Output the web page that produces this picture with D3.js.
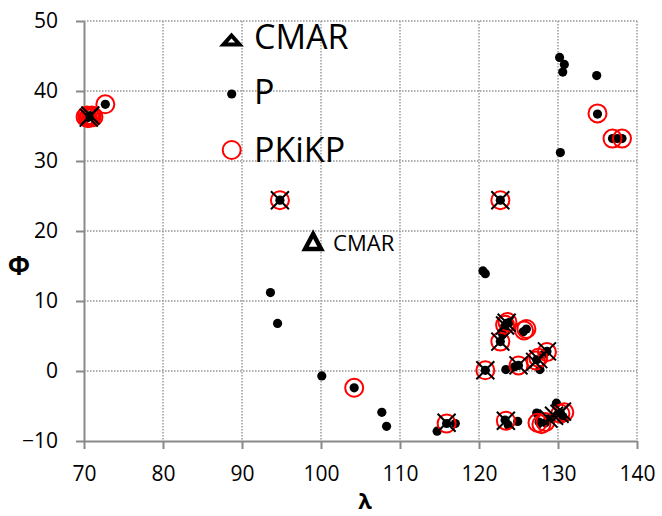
<!DOCTYPE html>
<html>
<head>
<meta charset="utf-8">
<script src="https://cdn.jsdelivr.net/npm/d3@7"></script>
<style>
  body { margin: 0; background: #fff; }
  text { font-family: "Open Sans", sans-serif; fill: #000; }
</style>
</head>
<body>
<svg width="662" height="516"></svg>
<script>
// λ, φ pairs
const cmarPoints = [[99.0, 18.5]];

const pPoints = [
  [70.5, 36.2], [70.8, 36.5], [71.1, 36.3], [72.7, 38.1], [94.8, 24.4],
  [93.6, 11.2], [94.5, 6.8], [100.1, -0.7], [104.2, -2.4], [107.7, -5.9],
  [108.3, -7.9], [114.7, -8.6], [115.9, -7.5], [117.0, -7.5], [120.5, 14.3],
  [120.8, 13.9], [120.8, 0.1], [122.7, 24.4], [122.7, 4.2], [123.0, 5.2],
  [123.4, 0.2], [123.5, 6.8], [123.2, 6.3], [123.8, 6.9], [125.6, 5.6],
  [126.0, 6.0], [125.0, 0.8], [124.5, 0.6], [127.3, 1.6], [127.7, 0.2],
  [128.6, 2.8], [128.2, 2.4], [123.3, -7.0], [123.7, -7.7], [124.9, -7.2],
  [127.3, -6.0], [127.6, -7.3], [128.4, -7.4], [128.8, -6.8], [129.8, -4.6],
  [130.3, -6.0], [130.6, -6.5], [130.2, 44.8], [130.8, 43.8], [130.6, 42.7],
  [134.9, 42.2], [135.0, 36.7], [136.9, 33.2], [137.5, 33.2], [138.1, 33.2],
  [130.3, 31.2]
];

const pkikpPoints = [
  [70.2, 36.3], [70.4, 36.5], [70.5, 36.1], [70.7, 36.4], [70.9, 36.2],
  [71.0, 36.5], [71.2, 36.3], [72.7, 38.1],
  [94.8, 24.4], [104.2, -2.4], [115.9, -7.5], [120.8, 0.1], [122.7, 24.4],
  [122.7, 4.2], [123.3, 6.6], [123.6, 7.0], [125.7, 5.8], [126.0, 6.0],
  [125.0, 0.8], [127.2, 1.5], [127.5, 1.9], [128.6, 2.7], [123.4, -7.1],
  [127.4, -7.4], [127.9, -7.6], [128.4, -7.3], [130.3, -6.1], [130.8, -5.9],
  [135.0, 36.8], [136.9, 33.2], [138.1, 33.2]
];

const crossPoints = [
  [70.8, 36.5], [70.6, 36.2], [94.8, 24.4], [115.9, -7.4], [120.8, 0.1],
  [122.7, 24.4], [122.7, 4.2], [123.5, 6.9], [123.3, 6.5], [125.0, 0.8],
  [127.1, 1.3], [127.5, 1.7], [128.6, 2.8], [123.4, -7.1], [128.8, -6.8],
  [129.5, -6.4], [130.2, -6.1], [130.5, -5.8]
];

const xTicks = [70, 80, 90, 100, 110, 120, 130, 140];
const yTicks = [-10, 0, 10, 20, 30, 40, 50];

const legendItems = ["CMAR", "P", "PKiKP"];

const svg = d3.select("svg");
const x = d3.scaleLinear().domain([70, 140]).range([84, 637]);
const y = d3.scaleLinear().domain([-10, 50]).range([441, 21]);

// grid
const grid = svg.append("g")
  .attr("stroke", "#959595")
  .attr("stroke-width", 1.4)
  .attr("stroke-dasharray", "1.5,1.5");
grid.selectAll(".vg").data(xTicks.slice(1)).join("line")
  .attr("x1", d => x(d)).attr("x2", d => x(d))
  .attr("y1", y(50)).attr("y2", y(-10));
grid.selectAll(".hg").data(yTicks.slice(1)).join("line")
  .attr("x1", x(70)).attr("x2", x(140))
  .attr("y1", d => y(d)).attr("y2", d => y(d));

// axes
const xAxis = svg.append("g")
  .attr("transform", `translate(0,${y(-10)})`)
  .call(d3.axisBottom(x).tickValues(xTicks).tickSize(8).tickSizeOuter(0).tickPadding(17));
const yAxis = svg.append("g")
  .attr("transform", `translate(${x(70)},0)`)
  .call(d3.axisLeft(y).tickValues(yTicks).tickSize(8).tickSizeOuter(0).tickPadding(18));

[xAxis, yAxis].forEach(a => {
  a.selectAll("path, line").attr("stroke", "#898989").attr("stroke-width", 2);
  a.selectAll("text")
    .style("font-family", '"Open Sans", sans-serif')
    .style("font-size", "21px")
    .attr("fill", "#000");
});

svg.append("text").attr("x", 365).attr("y", 509)
  .attr("text-anchor", "middle")
  .style("font-size", "22px").style("font-weight", "bold")
  .text("λ");
svg.append("text").attr("x", 19).attr("y", 275)
  .attr("text-anchor", "middle")
  .style("font-size", "26px").style("font-weight", "bold")
  .text("Φ");

// markers
const tri = (w, h) => `M${-w / 2},${h / 2}L${w / 2},${h / 2}L0,${-h / 2}Z`;

svg.append("g").selectAll("path").data(cmarPoints).join("path")
  .attr("transform", d => `translate(${x(d[0])},${y(d[1])})`)
  .attr("d", tri(16, 15))
  .attr("fill", "#fff").attr("stroke", "#000").attr("stroke-width", 4.5);

svg.append("text")
  .attr("x", x(cmarPoints[0][0]) + 20).attr("y", y(cmarPoints[0][1]) + 9)
  .style("font-size", "22px")
  .text("CMAR");

svg.append("g").selectAll("circle").data(pPoints).join("circle")
  .attr("cx", d => x(d[0])).attr("cy", d => y(d[1]))
  .attr("r", 4.6).attr("fill", "#000");

svg.append("g").selectAll("circle").data(pkikpPoints).join("circle")
  .attr("cx", d => x(d[0])).attr("cy", d => y(d[1]))
  .attr("r", 9).attr("fill", "none")
  .attr("stroke", "#ff0000").attr("stroke-width", 2);

svg.append("g").selectAll("path").data(crossPoints).join("path")
  .attr("transform", d => `translate(${x(d[0])},${y(d[1])})`)
  .attr("d", "M-9,-9L9,9M-9,9L9,-9")
  .attr("stroke", "#000").attr("stroke-width", 2);

// legend
const legend = svg.append("g");
const rowY = [40, 94, 150];
legend.append("path")
  .attr("transform", `translate(231.5,${rowY[0]})`)
  .attr("d", tri(16, 9))
  .attr("fill", "#fff").attr("stroke", "#000").attr("stroke-width", 4);
legend.append("circle").attr("cx", 231.7).attr("cy", rowY[1]).attr("r", 4.6).attr("fill", "#000");
legend.append("circle").attr("cx", 231.7).attr("cy", rowY[2]).attr("r", 9)
  .attr("fill", "#fff").attr("stroke", "#ff0000").attr("stroke-width", 2);
legend.selectAll("text").data(legendItems).join("text")
  .attr("x", 254).attr("y", (d, i) => [48.5, 104, 162][i])
  .style("font-size", "34px")
  .text(d => d);
</script>
</body>
</html>
